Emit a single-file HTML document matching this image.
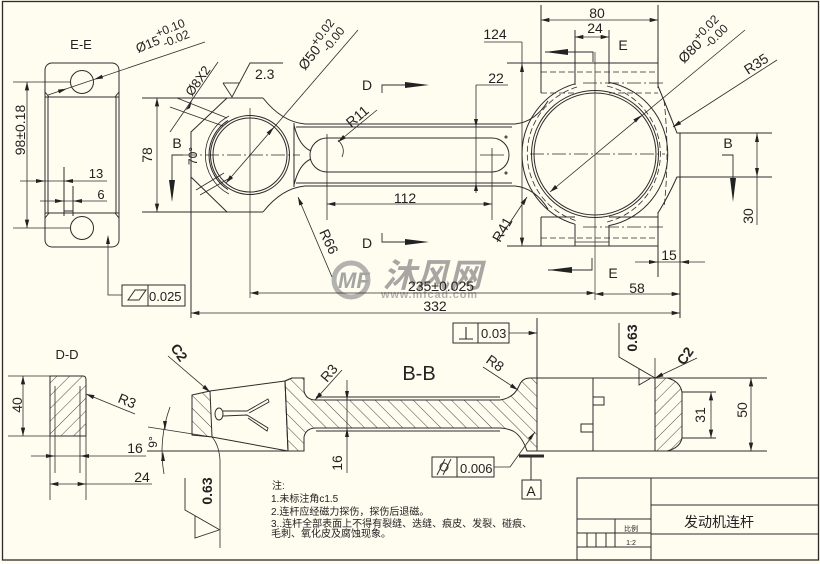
<!DOCTYPE html>
<html><head><meta charset="utf-8"><style>
html,body{margin:0;padding:0;background:#fffdf0;}
svg{display:block;}
text{font-family:"Liberation Sans","Noto Sans CJK SC",sans-serif;fill:#222;}
</style></head><body>
<svg xmlns="http://www.w3.org/2000/svg" width="820" height="564" viewBox="0 0 820 564">
<defs>
<marker id="m" viewBox="0 0 10 6" refX="10" refY="3" markerWidth="9" markerHeight="5" markerUnits="userSpaceOnUse" orient="auto-start-reverse"><path d="M0,0.4L10,3L0,5.6z" fill="#222"/></marker>
<pattern id="h1" patternUnits="userSpaceOnUse" width="9" height="9" patternTransform="rotate(45)"><line x1="0" y1="0" x2="0" y2="9" stroke="#333" stroke-width="0.9"/></pattern>
<pattern id="h2" patternUnits="userSpaceOnUse" width="9" height="9" patternTransform="rotate(-45)"><line x1="0" y1="0" x2="0" y2="9" stroke="#333" stroke-width="0.9"/></pattern>
</defs>
<rect width="820" height="564" fill="#fffdf0"/>

<!-- watermark -->
<g opacity="0.75">
<circle cx="351" cy="280" r="17" fill="none" stroke="#999" stroke-width="5"/>
<text x="338" y="288" font-size="22" font-weight="bold" font-style="italic" style="fill:#888">MF</text>
<text x="383" y="287" font-size="33" font-weight="bold" font-style="italic" style="fill:#8a8a8a;font-family:'Noto Sans CJK SC',sans-serif">沐风网</text>
<text x="381" y="298" font-size="11" font-weight="bold" style="fill:#999" letter-spacing="0.8">www.mfcad.com</text>
</g>

<g stroke="#2b2b2b" stroke-width="1" fill="none">
<!-- frame -->
<rect x="2.5" y="1.5" width="816" height="558.5" stroke-width="1.3"/>

<!-- ===== E-E view ===== -->
<rect x="45" y="63" width="74" height="184" rx="7"/>
<line x1="45" y1="97" x2="119" y2="97"/>
<line x1="45" y1="213" x2="119" y2="213"/>
<line x1="48" y1="97" x2="48" y2="213"/>
<line x1="116" y1="97" x2="116" y2="213"/>
<path d="M45,92 L49,97 M119,92 L115,97 M45,218 L49,213 M119,218 L115,213"/>
<circle cx="82" cy="82" r="11.5"/>
<circle cx="82" cy="228" r="11.5"/>
<line x1="64" y1="167" x2="64" y2="216"/>
<line x1="73" y1="186" x2="73" y2="216"/>
<line x1="64" y1="211" x2="73" y2="211"/>
<line x1="13" y1="82" x2="71" y2="82" stroke-width="0.8"/>
<line x1="13" y1="228" x2="71" y2="228" stroke-width="0.8"/>
<line x1="27" y1="82" x2="27" y2="228" stroke-width="0.8" marker-start="url(#m)" marker-end="url(#m)"/>
<line x1="20" y1="181" x2="107" y2="181" stroke-width="0.8"/>
<line x1="40" y1="201" x2="107" y2="201" stroke-width="0.8"/>
<line x1="48" y1="95" x2="205" y2="42" stroke-width="0.8"/>
<polyline points="108,237 108,295 122,295" stroke-width="0.8"/>
<rect x="122" y="285" width="63" height="21"/>
<line x1="148" y1="285" x2="148" y2="306"/>
<polygon points="128,300 135,290 146,290 139,300"/>

<!-- ===== main view : small end ===== -->
<path d="M263,98 L142,98 M227,98 L191,132 L191,318 M191,177 L227,212 L263,212 M142,212 L227,212"/>
<line x1="157" y1="98" x2="157" y2="212" stroke-width="0.8" marker-start="url(#m)" marker-end="url(#m)"/>
<circle cx="250" cy="155" r="37"/>
<circle cx="250" cy="155" r="39.5"/>
<path d="M228,120.4 A41,41 0 0,0 228,189.6"/>
<path d="M229,116 A44,44 0 0,0 229,194" stroke-width="0.8"/>
<line x1="183" y1="155" x2="300" y2="155" stroke-width="0.7" stroke-dasharray="14,3,2,3"/>
<line x1="250" y1="108" x2="250" y2="298" stroke-width="0.7"/>
<!-- oil hole lines -->
<line x1="170" y1="107" x2="223" y2="126" stroke-width="0.8"/>
<line x1="177" y1="98" x2="227" y2="118" stroke-width="0.8"/>
<line x1="196" y1="190" x2="224" y2="173" stroke-width="0.8"/>
<line x1="200" y1="195" x2="228" y2="179" stroke-width="0.8"/>
<line x1="170" y1="132" x2="218" y2="62" stroke-width="0.8"/>
<!-- 2.3 finish -->
<polyline points="223,83 232,97 250,63 283,63" stroke-width="0.9"/>
<line x1="223" y1="83" x2="239" y2="83" stroke-width="0.9"/>
<!-- B marker left -->
<polyline points="183,155 172,155 172,185" stroke-width="0.9"/>
<!-- Ø50 leader -->
<line x1="226" y1="183" x2="358" y2="30" stroke-width="0.8" marker-start="url(#m)"/>

<!-- rod -->
<path d="M263,98 Q282,122 305,124 L515,124 Q535,122 548,101"/>
<path d="M296,127 L512,127" stroke-width="0.9"/>
<path d="M263,212 Q282,188 305,186 L515,186 Q535,188 548,209"/>
<path d="M296,183 L512,183" stroke-width="0.9"/>
<line x1="294" y1="123" x2="294" y2="187"/>
<path d="M294,125 Q299,146 311,151 M294,185 Q299,164 311,159"/>
<rect x="310" y="138" width="199" height="34" rx="17"/>
<path d="M338,140 Q346,148 342,157" stroke-width="0.8"/>
<circle cx="506" cy="137" r="1"/><circle cx="506" cy="173" r="1"/>
<line x1="327" y1="134" x2="327" y2="220" stroke-width="0.8"/>
<line x1="492" y1="148" x2="492" y2="220" stroke-width="0.8"/>
<line x1="480" y1="155" x2="504" y2="155" stroke-width="0.7"/>
<line x1="327" y1="204" x2="492" y2="204" stroke-width="0.8" marker-start="url(#m)" marker-end="url(#m)"/>
<line x1="476" y1="85" x2="476" y2="193" stroke-width="0.8"/>
<line x1="476" y1="85" x2="508" y2="85" stroke-width="0.8"/>
<line x1="338" y1="142" x2="377" y2="110" stroke-width="0.8" marker-start="url(#m)"/>
<line x1="298" y1="197" x2="332" y2="277" stroke-width="0.8" marker-start="url(#m)"/>
<line x1="527" y1="197" x2="497" y2="242" stroke-width="0.8" marker-start="url(#m)"/>
<!-- D markers -->
<polyline points="382,93 382,85 410,85" stroke-width="0.9"/>
<polyline points="382,233 382,242 410,242" stroke-width="0.9"/>

<!-- ===== main view : big end ===== -->
<line x1="522" y1="42" x2="522" y2="246" stroke-width="0.8" marker-end="url(#m)"/>
<line x1="484" y1="42" x2="522" y2="42" stroke-width="0.8"/>
<polygon points="520,72 524,72 522,63" fill="#222" stroke="none"/>
<line x1="507" y1="63" x2="658" y2="63"/>
<line x1="507" y1="246" x2="658" y2="246"/>
<line x1="541" y1="5" x2="541" y2="93"/>
<line x1="541" y1="217" x2="541" y2="246"/>
<line x1="658" y1="5" x2="658" y2="88"/>
<line x1="658" y1="212" x2="658" y2="277"/>
<line x1="541" y1="72" x2="658" y2="72" stroke-dasharray="6,3" stroke-width="0.8"/>
<line x1="541" y1="93" x2="575" y2="93" stroke-dasharray="6,3" stroke-width="0.8"/>
<line x1="609" y1="93" x2="658" y2="93" stroke-dasharray="6,3" stroke-width="0.8"/>
<line x1="583" y1="83" x2="665" y2="83" stroke-dasharray="14,3,2,3" stroke-width="0.7"/>
<line x1="541" y1="217" x2="575" y2="217" stroke-width="0.9"/>
<line x1="609" y1="217" x2="658" y2="217" stroke-width="0.9"/>
<line x1="583" y1="227" x2="665" y2="227" stroke-dasharray="14,3,2,3" stroke-width="0.7"/>
<line x1="541" y1="238" x2="658" y2="238" stroke-dasharray="6,3" stroke-width="0.8"/>
<line x1="575" y1="30" x2="575" y2="85"/>
<line x1="609" y1="30" x2="609" y2="84"/>
<line x1="575" y1="224" x2="575" y2="246"/>
<line x1="609" y1="225" x2="609" y2="246"/>
<line x1="575" y1="242" x2="609" y2="242" stroke-width="0.8"/>
<path d="M575,83.8 A73,73 0 0,0 575,224.2"/>
<path d="M609,82.4 A73,73 0 0,1 609,225.6"/>
<path d="M577,87 A70,70 0 0,0 577,221" stroke-dasharray="6,3" stroke-width="0.8"/>
<path d="M607,86 A70,70 0 0,1 607,222" stroke-dasharray="6,3" stroke-width="0.8"/>
<circle cx="595" cy="154" r="61"/>
<circle cx="595" cy="154" r="63.5"/>
<line x1="530" y1="154" x2="665" y2="154" stroke-dasharray="14,3,2,3" stroke-width="0.7"/>
<line x1="595" y1="52" x2="595" y2="300" stroke-width="0.7"/>
<!-- right boss -->
<path d="M658,86 Q668,110 677,133 L772,133"/>
<path d="M658,213 Q668,197 677,177 L772,177"/>
<line x1="680" y1="133" x2="680" y2="318"/>
<path d="M664,100 Q670,154 664,208" stroke-dasharray="6,3" stroke-width="0.8"/>
<!-- dims big end -->
<line x1="541" y1="20" x2="658" y2="20" stroke-width="0.8" marker-start="url(#m)" marker-end="url(#m)"/>
<line x1="575" y1="37" x2="609" y2="37" stroke-width="0.8" marker-start="url(#m)" marker-end="url(#m)"/>
<line x1="550" y1="192" x2="745" y2="30" stroke-width="0.8" marker-start="url(#m)"/>
<line x1="673" y1="127" x2="777" y2="60" stroke-width="0.8" marker-start="url(#m)"/>
<line x1="757" y1="133" x2="757" y2="225" stroke-width="0.8"/>
<polygon points="755,142 759,142 757,133" fill="#222" stroke="none"/>
<polygon points="755,168 759,168 757,177" fill="#222" stroke="none"/>
<polyline points="722,155 733,155 733,182" stroke-width="0.9"/>
<line x1="635" y1="262" x2="705" y2="262" stroke-width="0.8"/>
<polygon points="649,260 649,264 658,262" fill="#222" stroke="none"/>
<polygon points="689,260 689,264 680,262" fill="#222" stroke="none"/>
<line x1="595" y1="294" x2="680" y2="294" stroke-width="0.8" marker-start="url(#m)" marker-end="url(#m)"/>
<line x1="250" y1="293" x2="595" y2="293" stroke-width="0.8" marker-start="url(#m)" marker-end="url(#m)"/>
<line x1="191" y1="313" x2="680" y2="313" stroke-width="0.8" marker-start="url(#m)" marker-end="url(#m)"/>
<polyline points="545,52 593,52 593,62" stroke-width="0.9"/>
<polyline points="548,270 592,270 592,258" stroke-width="0.9"/>

<!-- ===== D-D view ===== -->
<path d="M50,376 L83,376 Q86,376 86,380 L86,436 L50,436 Z" fill="url(#h1)"/>
<line x1="55" y1="386" x2="55" y2="473" stroke-width="0.8"/>
<line x1="80" y1="386" x2="80" y2="473" stroke-width="0.8"/>
<line x1="50" y1="436" x2="50" y2="500" stroke-width="0.8"/>
<line x1="86" y1="436" x2="86" y2="500" stroke-width="0.8"/>
<line x1="8" y1="376" x2="50" y2="376" stroke-width="0.8"/>
<line x1="8" y1="436" x2="50" y2="436" stroke-width="0.8"/>
<line x1="23" y1="376" x2="23" y2="436" stroke-width="0.8" marker-start="url(#m)" marker-end="url(#m)"/>
<line x1="86" y1="394" x2="135" y2="414" stroke-width="0.8" marker-start="url(#m)"/>
<line x1="31" y1="456" x2="146" y2="456" stroke-width="0.8"/>
<polygon points="46,454 46,458 55,456" fill="#222" stroke="none"/>
<polygon points="89,454 89,458 80,456" fill="#222" stroke="none"/>
<line x1="50" y1="484" x2="86" y2="484" stroke-width="0.8" marker-start="url(#m)" marker-end="url(#m)"/>
<line x1="86" y1="484" x2="152" y2="484" stroke-width="0.8"/>

<!-- ===== B-B view ===== -->
<path d="M192,395 L210,391 L212,437 L192,435 Z" fill="url(#h2)"/>
<path d="M210,391 L285,381 L292,378 L304,378"/>
<path d="M212,437 L288,451"/>
<line x1="285" y1="381" x2="288" y2="451"/>
<line x1="147" y1="451" x2="304" y2="451"/>
<line x1="148" y1="427" x2="212" y2="437" stroke-width="0.8"/>
<path d="M212,437 Q219,445 220,460 L220,548" stroke-width="0.8"/>
<ellipse cx="219" cy="414" rx="4" ry="6"/>
<path d="M223,411 L247,411 L268,399 L269,402 L249,413 M223,416 L247,415 L268,428 L267,431 L248,418" stroke-width="0.9"/>
<!-- rod + blocks hatched -->
<path d="M292,378 L304,378 L304,391 Q306,400 316,400 L500,400 Q514,398 519,386 Q522,378 530,378 L537,378 L537,451 L527,451 Q522,436 513,431 Q506,428 500,428 L316,428 Q306,428 304,437 L304,451 L288,451 L285,381 Z" fill="url(#h2)"/>
<line x1="316" y1="397" x2="500" y2="397" stroke-width="0.9"/>
<line x1="316" y1="431" x2="500" y2="431" stroke-width="0.9"/>
<line x1="537" y1="318" x2="537" y2="378"/>
<line x1="537" y1="378" x2="767" y2="378"/>
<line x1="537" y1="451" x2="767" y2="451"/>
<line x1="593" y1="378" x2="593" y2="451"/>
<rect x="593" y="397" width="11" height="8"/>
<rect x="581" y="424" width="12" height="8"/>
<path d="M655,378 L667,378 Q680,381 682,392 L682,438 Q680,448 667,451 L655,451 Z" fill="url(#h1)"/>
<line x1="682" y1="392" x2="716" y2="392"/>
<line x1="682" y1="438" x2="716" y2="438"/>
<line x1="711" y1="392" x2="711" y2="438" stroke-width="0.8" marker-start="url(#m)" marker-end="url(#m)"/>
<line x1="751" y1="378" x2="751" y2="451" stroke-width="0.8" marker-start="url(#m)" marker-end="url(#m)"/>
<!-- B-B dims -->
<line x1="168" y1="356" x2="210" y2="392" stroke-width="0.8" marker-end="url(#m)"/>
<path d="M170,407 Q158,440 164,474" stroke-width="0.8"/>
<polygon points="163,421 167,421 165,430" fill="#222" stroke="none"/>
<polygon points="161,461 165,461 163,452" fill="#222" stroke="none"/>
<polyline points="185,478 185,510 220,530" stroke-width="0.9"/>
<polyline points="195,516 195,538 219,530" stroke-width="0.9"/>
<line x1="315" y1="400" x2="342" y2="370" stroke-width="0.8" marker-start="url(#m)"/>
<line x1="483" y1="367" x2="518" y2="390" stroke-width="0.8" marker-end="url(#m)"/>
<line x1="347" y1="380" x2="347" y2="473" stroke-width="0.8"/>
<polygon points="345,391 349,391 347,400" fill="#222" stroke="none"/>
<polygon points="345,437 349,437 347,428" fill="#222" stroke="none"/>
<rect x="453" y="323" width="56" height="20"/>
<line x1="478" y1="323" x2="478" y2="343"/>
<path d="M466,327 L466,339 M459,339 L473,339" stroke-width="1.1"/>
<line x1="509" y1="333" x2="537" y2="333" stroke-width="0.8" marker-end="url(#m)"/>
<rect x="432" y="457" width="62" height="20"/>
<line x1="457" y1="457" x2="457" y2="477"/>
<circle cx="444" cy="467" r="4"/>
<path d="M437,475 L445,459 M443,475 L451,459" stroke-width="0.9"/>
<polyline points="494,467 510,467 535,432" stroke-width="0.8"/>
<polygon points="535,432 528,438 531,440" fill="#222" stroke="none"/>
<line x1="519" y1="456" x2="544" y2="456" stroke-width="3"/>
<line x1="531" y1="457" x2="531" y2="480"/>
<rect x="522" y="480" width="19" height="19"/>
<polyline points="619,323 619,357 655,378" stroke-width="0.9"/>
<polyline points="639,369 639,385 651,378" stroke-width="0.9"/>
<line x1="655" y1="358" x2="655" y2="378" stroke-width="0.8"/>
<line x1="655" y1="378" x2="697" y2="358" stroke-width="0.8" marker-start="url(#m)"/>

<!-- title block -->
<rect x="577" y="478" width="241.5" height="82"/>
<line x1="651" y1="478" x2="651" y2="560"/>
<line x1="651" y1="505" x2="818" y2="505"/>
<line x1="651" y1="534" x2="818" y2="534"/>
<line x1="577" y1="519" x2="651" y2="519"/>
<line x1="577" y1="533" x2="651" y2="533"/>
<line x1="577" y1="547" x2="651" y2="547"/>
<line x1="615" y1="519" x2="615" y2="547"/>
<line x1="587" y1="533" x2="587" y2="547"/>
<line x1="596" y1="533" x2="596" y2="547"/>
<line x1="606" y1="533" x2="606" y2="547"/>
</g>

<!-- filled arrows -->
<g fill="#222">
<polygon points="67,88.6 59.1,93.4 57.9,89.6"/>
<polygon points="94,79.5 101.9,74.7 103.1,78.5"/>
<polygon points="36,179 36,183 45,181"/>
<polygon points="73,179 73,183 64,181"/>
<polygon points="55,199 55,203 64,201"/>
<polygon points="82,199 82,203 73,201"/>
<polygon points="108,235 106,244 110,244"/>
<polygon points="169,180 175,180 172,202"/>
<polygon points="730,178 736,178 733,202"/>
<polygon points="405,82 405,88 429,85"/>
<polygon points="405,239 405,245 429,242"/>
<polygon points="545,52 568,49 568,55"/>
<polygon points="548,270 572,267 572,273"/>
<polygon points="274,127 269.6,135.1 266.6,132.5"/>
<polygon points="641.5,115.2 635.9,122.5 633.3,119.5"/>
<polygon points="474,119 478,119 476,127"/>
<polygon points="474,191 478,191 476,183"/>
<polygon points="186,110 192,100 190,108"/>
</g>

<!-- ===== texts ===== -->
<g font-size="14">
<text x="81" y="49" text-anchor="middle" font-size="13">E-E</text>
<text transform="translate(25,130) rotate(-90)" text-anchor="middle" font-size="14">98±0.18</text>
<text x="96" y="178" text-anchor="middle" font-size="13">13</text>
<text x="101" y="199" text-anchor="middle" font-size="13">6</text>
<text x="149" y="301" font-size="13">0.025</text>
<g transform="translate(138,53) rotate(-22)"><text x="0" y="0" font-size="13">Ø15</text><text x="24" y="-7" font-size="12">+0.10</text><text x="27" y="5" font-size="12">-0.02</text></g>
<text transform="translate(192,97) rotate(-55)" font-size="13">Ø8X2</text>
<text x="255" y="79">2.3</text>
<text transform="translate(152,155) rotate(-90)" text-anchor="middle">78</text>
<text x="177" y="148" text-anchor="middle">B</text>
<text transform="translate(197,156) rotate(-90)" text-anchor="middle" font-size="12">70°</text>
<g transform="translate(305,71) rotate(-52)"><text x="0" y="0">Ø50</text><text x="26" y="-6" font-size="12">+0.02</text><text x="29" y="7" font-size="12">-0.00</text></g>
<text transform="translate(351,128) rotate(-40)">R11</text>
<text x="367" y="90" text-anchor="middle">D</text>
<text x="367" y="248" text-anchor="middle">D</text>
<text x="495" y="39" text-anchor="middle">124</text>
<text x="496" y="83" text-anchor="middle">22</text>
<text x="405" y="203" text-anchor="middle">112</text>
<text transform="translate(319,232) rotate(65)">R66</text>
<text transform="translate(500,243) rotate(-60)">R41</text>
<text x="597" y="18" text-anchor="middle">80</text>
<text x="595" y="33" text-anchor="middle">24</text>
<text x="623" y="50" text-anchor="middle">E</text>
<text x="613" y="278" text-anchor="middle">E</text>
<g transform="translate(684,64) rotate(-45)"><text x="0" y="0">Ø80</text><text x="26" y="-6" font-size="12">+0.02</text><text x="29" y="7" font-size="12">-0.00</text></g>
<text transform="translate(748,75) rotate(-33)">R35</text>
<text x="728" y="148" text-anchor="middle">B</text>
<text transform="translate(753,216) rotate(-90)" text-anchor="middle">30</text>
<text x="669" y="260" text-anchor="middle">15</text>
<text x="637" y="293" text-anchor="middle">58</text>
<text x="441" y="291" text-anchor="middle">235±0.025</text>
<text x="435" y="311" text-anchor="middle">332</text>

<text x="67" y="359" text-anchor="middle" font-size="13">D-D</text>
<text transform="translate(22,405) rotate(-90)" text-anchor="middle">40</text>
<text transform="translate(117,402) rotate(22)">R3</text>
<text x="135" y="453" text-anchor="middle">16</text>
<text x="142" y="482" text-anchor="middle">24</text>
<text transform="translate(170,348) rotate(55)" font-weight="bold">C2</text>
<text transform="translate(157,442) rotate(-90)" text-anchor="middle" font-size="12">9°</text>
<text transform="translate(212,491) rotate(-90)" text-anchor="middle" font-weight="bold">0.63</text>
<text x="419" y="380" text-anchor="middle" font-size="20">B-B</text>
<text transform="translate(327,383) rotate(-50)">R3</text>
<text transform="translate(485,362) rotate(35)">R8</text>
<text transform="translate(342,463) rotate(-90)" text-anchor="middle">16</text>
<text x="481" y="338" font-size="13">0.03</text>
<text x="460" y="473" font-size="13">0.006</text>
<text x="531" y="496" text-anchor="middle">A</text>
<text transform="translate(637,338) rotate(-90)" text-anchor="middle" font-weight="bold">0.63</text>
<text transform="translate(684,366) rotate(-55)" font-weight="bold">C2</text>
<text transform="translate(705,415) rotate(-90)" text-anchor="middle">31</text>
<text transform="translate(747,410) rotate(-90)" text-anchor="middle">50</text>
</g>

<g font-size="10" style="font-family:'Liberation Sans','Noto Sans CJK SC',sans-serif">
<text x="272" y="489">注:</text>
<text x="271" y="502">1.未标注角c1.5</text>
<text x="271" y="515">2.连杆应经磁力探伤，探伤后退磁。</text>
<text x="271" y="527">3..连杆全部表面上不得有裂缝、迭缝、痕皮、发裂、碰痕、</text>
<text x="271" y="537">毛刺、氧化皮及腐蚀现象。</text>
</g>
<text x="719" y="527" text-anchor="middle" font-size="14" style="font-family:'Liberation Sans','Noto Sans CJK SC',sans-serif">发动机连杆</text>
<text x="631" y="531" text-anchor="middle" font-size="7" style="font-family:'Liberation Sans','Noto Sans CJK SC',sans-serif">比例</text>
<text x="631" y="545" text-anchor="middle" font-size="7">1:2</text>
</svg>
</body></html>
